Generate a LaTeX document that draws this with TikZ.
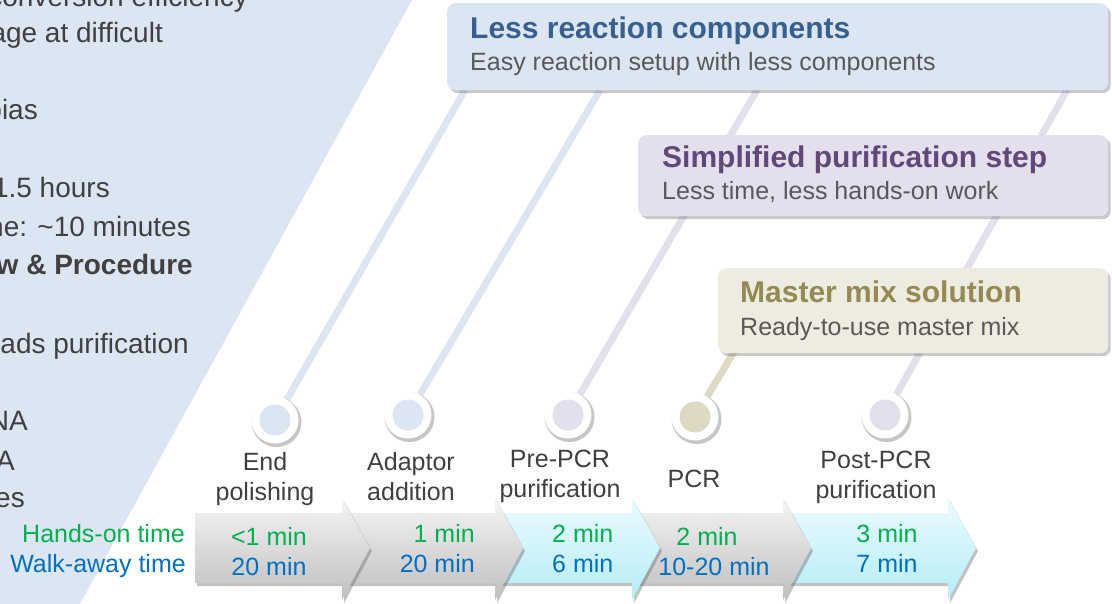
\documentclass[tikz,border=0pt]{standalone}
\usepackage{fontspec}
\setmainfont{Liberation Sans}
\usetikzlibrary{shadows, backgrounds}

\definecolor{panelblue}{HTML}{DCE6F2}
\definecolor{panellilac}{HTML}{E4DFEC}
\definecolor{paneltan}{HTML}{EEECE1}
\definecolor{linetan}{HTML}{DDD9C3}
\definecolor{titleblue}{HTML}{376092}
\definecolor{titlepurple}{HTML}{60497A}
\definecolor{titleolive}{HTML}{948A54}
\definecolor{bodygray}{HTML}{595959}
\definecolor{textgray}{HTML}{404040}
\definecolor{handsgreen}{HTML}{00B050}
\definecolor{walkblue}{HTML}{0070C0}
\definecolor{cyantop}{HTML}{EAFCFF}
\definecolor{cyanbot}{HTML}{B6ECF7}

\newcommand{\pxsize}[1]{\fontsize{#1}{30}\selectfont}

\begin{document}
\begin{tikzpicture}[
    x=1pt, y=-1pt,
    feature/.style={rectangle, rounded corners=8pt, anchor=north west, inner sep=0pt, drop shadow={shadow xshift=2.5pt, shadow yshift=-3pt, opacity=0.35, fill=black!60}},
    title/.style={anchor=base west, inner sep=0pt, font=\pxsize{30}\bfseries},
    subtitle/.style={anchor=base west, inner sep=0pt, font=\pxsize{25}, text=bodygray},
    link/.style={line width=7pt},
    stepdot/.style={circle, fill=white, minimum size=47pt, inner sep=0pt, drop shadow={shadow xshift=1.5pt, shadow yshift=-2pt, shadow scale=1.06, opacity=0.45, fill=black!50}, path picture={\fill[#1] (path picture bounding box.center) circle (15.5pt);}},
    steplabel/.style={align=center, anchor=base, inner sep=0pt, font=\pxsize{25}, text=textgray},
    sidetext/.style={anchor=base east, inner sep=0pt, font=\pxsize{28}, text=textgray},
    hands/.style={inner sep=0pt, font=\pxsize{25}, text=handsgreen},
    walk/.style={inner sep=0pt, font=\pxsize{25}, text=walkblue},
    stepgray/.style={top color=gray!8, bottom color=gray!50, drop shadow={shadow xshift=2pt, shadow yshift=-3pt, opacity=0.4, fill=black!60}},
    stepcyan/.style={top color=cyantop, bottom color=cyanbot, drop shadow={shadow xshift=2pt, shadow yshift=-3pt, opacity=0.4, fill=black!60}}
]
\useasboundingbox (0,0) rectangle (1112,604);
\clip (0,0) rectangle (1112,604);

% Left panel (cut off)
\begin{scope}[on background layer]
\fill[panelblue] (0,0) -- (412,0) -- (80,604) -- (0,604) -- cycle;
\end{scope}
\node[sidetext] (s1) at (248,7) {conversion efficiency};
\node[sidetext] (s2) at (163,43) {age at difficult};
\node[sidetext] (s3) at (38,120) {bias};
\node[sidetext] (s4) at (110,198) {1.5 hours};
\node[sidetext] (s5) at (191,237) {ne: \textasciitilde10 minutes};
\node[sidetext, font=\pxsize{28}\bfseries] (s6) at (193,275) {w \& Procedure};
\node[sidetext] (s7) at (189,353) {ads purification};
\node[sidetext] (s8) at (28,430) {NA};
\node[sidetext] (s9) at (15,470) {A};
\node[sidetext] (s10) at (25,507) {es};

% Steps
\node[stepdot=panelblue] (endc) at (275,420) {};
\node[stepdot=panelblue] (adaptc) at (408,415) {};
\node[stepdot=panellilac] (prec) at (568,415) {};
\node[stepdot=linetan] (pcrc) at (695,417) {};
\node[stepdot=panellilac] (postc) at (885,415) {};

% Feature boxes
\node[feature, fill=panelblue, minimum width=661pt, minimum height=87pt] (fewer) at (447,3) {};
\node[title, text=titleblue] (fewer-t) at (470,39) {Less reaction components};
\node[subtitle] (fewer-s) at (470,71) {Easy reaction setup with less components};

\node[feature, fill=panellilac, minimum width=470pt, minimum height=81pt] (purify) at (638,135) {};
\node[title, text=titlepurple] (purify-t) at (662,168) {Simplified purification step};
\node[subtitle] (purify-s) at (662,200) {Less time, less hands-on work};

\node[feature, fill=paneltan, minimum width=390pt, minimum height=85pt] (mix) at (718,268) {};
\node[title, text=titleolive] (mix-t) at (740,302) {Master mix solution};
\node[subtitle] (mix-s) at (740,335) {Ready-to-use master mix};

% Connector ends under the boxes
\coordinate (top-end) at (465,90);
\coordinate (top-adaptor) at (600,90);
\coordinate (top-pre) at (757,90);
\coordinate (top-post) at (1067,90);
\coordinate (top-pcr) at (741,340);

% Lines behind boxes and dots
\begin{scope}[on background layer]
\draw[link, panelblue] (endc) -- (top-end);
\draw[link, panelblue] (adaptc) -- (top-adaptor);
\draw[link, panellilac] (prec) -- (top-pre);
\draw[link, panellilac] (postc) -- (top-post);
\draw[link, linetan] (pcrc) -- (top-pcr);
\end{scope}

% Step names (base is the last line)
\node[steplabel] (endl) at (265,500) {End\\polishing};
\node[steplabel] (adaptl) at (411,500) {Adaptor\\addition};
\node[steplabel] (prel) at (560,497) {Pre-PCR\\purification};
\node[steplabel] (pcrl) at (694,487) {PCR};
\node[steplabel] (postl) at (876,498) {Post-PCR\\purification};

% Chevrons, last one first
\foreach \xa/\xb/\kind in {783/948/stepcyan, 632/783/stepgray, 495/632/stepcyan, 342/495/stepgray, 195/342/stepgray}
  \path[\kind] (\xa,513) -- (\xb,513) -- (\xb,498) -- (\xb+28,548) -- (\xb,600) -- (\xb,583) -- (\xa,583) -- cycle;

% Times
\node[hands, anchor=base east] (hands) at (185,542) {Hands-on time};
\node[walk, anchor=base east] (walk) at (186,572) {Walk-away time};
\node[hands, anchor=base] (h1) at (269,545) {<1 min};
\node[walk, anchor=base] (w1) at (269,575) {20 min};
\node[hands, anchor=base east] (h2) at (475,542) {1 min};
\node[walk, anchor=base east] (w2) at (475,572) {20 min};
\node[hands, anchor=base west] (h3) at (552,542) {2 min};
\node[walk, anchor=base west] (w3) at (552,572) {6 min};
\node[hands, anchor=base] (h4) at (707,545) {2 min};
\node[walk, anchor=base] (w4) at (714,575) {10-20 min};
\node[hands, anchor=base] (h5) at (887,542) {3 min};
\node[walk, anchor=base] (w5) at (887,572) {7 min};

\end{tikzpicture}
\end{document}
